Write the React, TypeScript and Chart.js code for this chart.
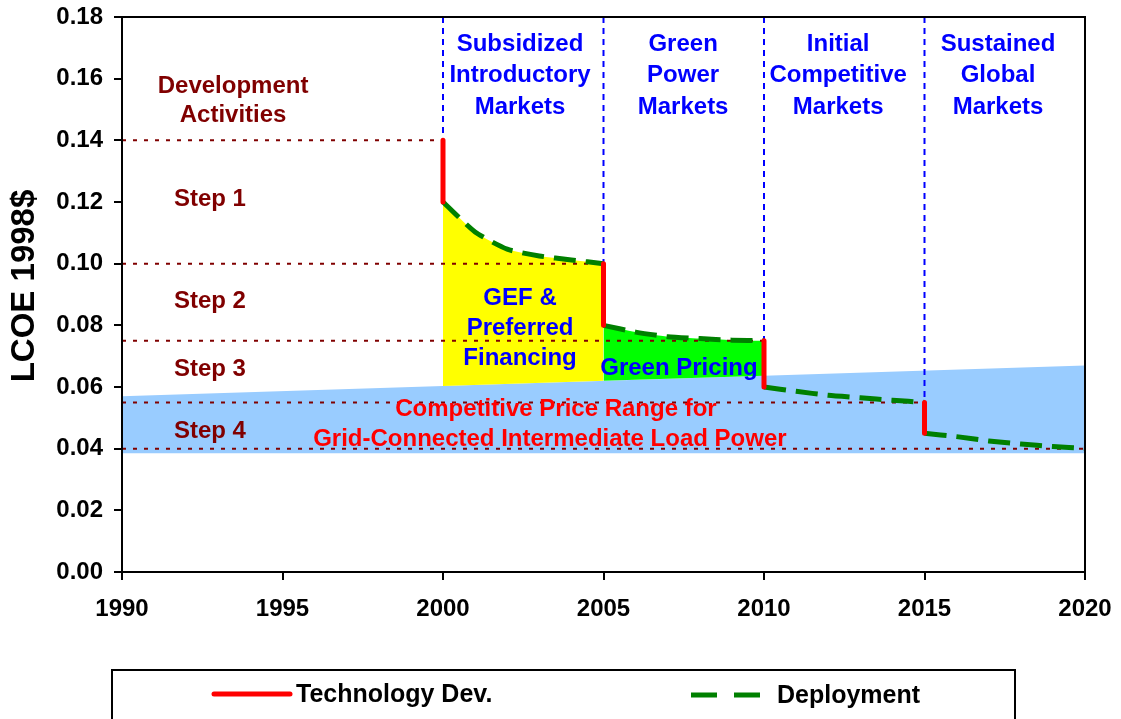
import React, { useEffect, useRef } from 'react';
import { Chart, registerables } from 'chart.js';

Chart.register(...registerables);

// ---- data ----
const xTickValues = [1990, 1995, 2000, 2005, 2010, 2015, 2020];
const yTickValues = [0, 0.02, 0.04, 0.06, 0.08, 0.1, 0.12, 0.14, 0.16, 0.18];

// Deployment cost curve, in four segments
const deployYears1 = [2000, 2001, 2002, 2003, 2004, 2005];
const deployValues1 = [0.12, 0.1103, 0.1047, 0.1025, 0.1012, 0.1];
const deployYears2 = [2005, 2006, 2007, 2008, 2009, 2010];
const deployValues2 = [0.08, 0.0778, 0.0763, 0.0757, 0.0752, 0.075];
const deployYears3 = [2010, 2011, 2012, 2013, 2014, 2015];
const deployValues3 = [0.06, 0.0586, 0.0573, 0.0565, 0.0557, 0.055];
const deployYears4 = [2015, 2016, 2017, 2018, 2019, 2020];
const deployValues4 = [0.045, 0.0439, 0.0425, 0.0415, 0.0407, 0.0401];

// Technology development steps (vertical drops)
const techYears = [2000, 2005, 2010, 2015];
const techTop = [0.14, 0.1, 0.075, 0.055];
const techBottom = [0.12, 0.08, 0.06, 0.045];

// Competitive price range band
const bandYears = [1990, 2020];
const bandLow = [0.0385, 0.0385];
const bandHigh = [0.057, 0.067];

// Step level guide lines
const stepLevels = [0.14, 0.1, 0.075, 0.055, 0.04];
const stepLevelEnds = [2000, 2005, 2010, 2015, 2020];

// Market phase dividers
const phaseYears = [2000, 2005, 2010, 2015];
const phaseBottoms = [0.14, 0.1, 0.075, 0.055];

const FAMILY = '"Liberation Sans", Arial, Helvetica, sans-serif';
const FONT = `bold 24px ${FAMILY}`;
const DARKRED = '#800000';
const BLUE = '#0000FF';
const RED = '#FF0000';
const GREEN = '#008000';

const textLabels = [
  { lines: ['Development', 'Activities'], x: 1993.46, y: 0.1532, lh: 29, color: DARKRED },
  { lines: ['Step 1'], x: 1992.74, y: 0.1213, lh: 30, color: DARKRED },
  { lines: ['Step 2'], x: 1992.74, y: 0.0882, lh: 30, color: DARKRED },
  { lines: ['Step 3'], x: 1992.74, y: 0.0662, lh: 30, color: DARKRED },
  { lines: ['Step 4'], x: 1992.74, y: 0.0461, lh: 30, color: DARKRED },
  { lines: ['Subsidized', 'Introductory', 'Markets'], x: 2002.4, y: 0.1614, lh: 31.5, color: BLUE },
  { lines: ['Green', 'Power', 'Markets'], x: 2007.48, y: 0.1614, lh: 31.5, color: BLUE },
  { lines: ['Initial', 'Competitive', 'Markets'], x: 2012.31, y: 0.1614, lh: 31.5, color: BLUE },
  { lines: ['Sustained', 'Global', 'Markets'], x: 2017.29, y: 0.1614, lh: 31.5, color: BLUE },
  { lines: ['GEF &', 'Preferred', 'Financing'], x: 2002.4, y: 0.0795, lh: 30, color: BLUE },
  { lines: ['Green Pricing'], x: 2007.35, y: 0.0665, lh: 30, color: BLUE },
  { lines: ['Competitive Price Range for'], x: 2003.52, y: 0.0532, lh: 30, color: RED },
  { lines: ['Grid-Connected Intermediate Load Power'], x: 2003.33, y: 0.0435, lh: 30, color: RED },
];

const pts = (xs: number[], ys: number[]) => xs.map((x, i) => ({ x, y: ys[i] }));

const overlayPlugin = {
  id: 'overlay',
  afterDatasetsDraw(chart: any) {
    const { ctx, chartArea: a } = chart;
    const xs = chart.scales.x;
    const ys = chart.scales.y;
    ctx.save();
    ctx.font = FONT;
    ctx.textAlign = 'center';
    ctx.textBaseline = 'middle';
    for (const l of textLabels) {
      ctx.fillStyle = l.color;
      const cx = xs.getPixelForValue(l.x);
      const cy = ys.getPixelForValue(l.y) + 1.5;
      const n = l.lines.length;
      l.lines.forEach((t, i) => ctx.fillText(t, cx, cy + (i - (n - 1) / 2) * l.lh));
    }
    ctx.strokeStyle = '#000';
    ctx.lineWidth = 2;
    ctx.strokeRect(a.left, a.top, a.right - a.left, a.bottom - a.top);
    ctx.restore();
  },
  afterDraw(chart: any) {
    const { ctx } = chart;
    ctx.save();
    // y-axis title
    ctx.translate(25, 286);
    ctx.rotate(-Math.PI / 2);
    ctx.fillStyle = '#000';
    ctx.font = `bold 33px ${FAMILY}`;
    ctx.textAlign = 'center';
    ctx.textBaseline = 'middle';
    ctx.fillText('LCOE 1998$', 0, 0);
    ctx.restore();

    ctx.save();
    ctx.strokeStyle = '#000';
    ctx.lineWidth = 2;
    ctx.strokeRect(112, 670, 903, 80);
    // Technology Dev.
    ctx.strokeStyle = RED;
    ctx.lineWidth = 5;
    ctx.lineCap = 'round';
    ctx.beginPath();
    ctx.moveTo(214, 694);
    ctx.lineTo(290, 694);
    ctx.stroke();
    // Deployment
    ctx.strokeStyle = GREEN;
    ctx.lineCap = 'butt';
    ctx.beginPath();
    ctx.moveTo(691, 695);
    ctx.lineTo(717, 695);
    ctx.moveTo(734, 695);
    ctx.lineTo(760, 695);
    ctx.stroke();
    ctx.fillStyle = '#000';
    ctx.font = `bold 25px ${FAMILY}`;
    ctx.textAlign = 'left';
    ctx.textBaseline = 'middle';
    ctx.fillText('Technology Dev.', 296, 695);
    ctx.fillText('Deployment', 777, 696);
    ctx.restore();
  },
};

const zeroPad = (s: any) => {
  s.paddingTop = 0;
  s.paddingBottom = 0;
  s.paddingLeft = 0;
  s.paddingRight = 0;
};

export default function App() {
  const ref = useRef<HTMLCanvasElement | null>(null);

  useEffect(() => {
    if (!ref.current) return;
    const gap = (x: number) => ({ x, y: null as any });
    const deployData = [
      ...pts(deployYears1, deployValues1), gap(2005),
      ...pts(deployYears2, deployValues2), gap(2010),
      ...pts(deployYears3, deployValues3), gap(2015),
      ...pts(deployYears4, deployValues4),
    ];
    const techData: any[] = [];
    techYears.forEach((yr, i) => {
      if (i > 0) techData.push(gap(yr));
      techData.push({ x: yr, y: techTop[i] }, { x: yr, y: techBottom[i] });
    });
    const TENSION = 0.2;
    const base = { pointRadius: 0, pointHoverRadius: 0, spanGaps: false } as any;

    const datasets: any[] = [
      { ...base, label: 'bandLow', data: pts(bandYears, bandLow), borderWidth: 0, borderColor: 'rgba(0,0,0,0)', fill: false, order: 100 },
      { ...base, label: 'bandHigh', data: pts(bandYears, bandHigh), borderWidth: 0, borderColor: 'rgba(0,0,0,0)', backgroundColor: '#99CCFF', fill: 0, order: 99 },
      { ...base, label: 'yellow', data: pts(deployYears1, deployValues1), tension: TENSION, borderWidth: 0, borderColor: 'rgba(0,0,0,0)', backgroundColor: '#FFFF00', fill: 1, order: 98 },
      { ...base, label: 'green', data: pts(deployYears2, deployValues2), tension: TENSION, borderWidth: 0, borderColor: 'rgba(0,0,0,0)', backgroundColor: '#00FF00', fill: 1, order: 97 },
    ];
    stepLevels.forEach((lv, i) => {
      datasets.push({ ...base, label: 'level' + i, data: [{ x: 1990, y: lv }, { x: stepLevelEnds[i], y: lv }], borderColor: DARKRED, borderWidth: 2, borderDash: [4, 7], fill: false, order: 50 });
    });
    phaseYears.forEach((yr, i) => {
      datasets.push({ ...base, label: 'phase' + i, data: [{ x: yr, y: 0.18 }, { x: yr, y: phaseBottoms[i] }], borderColor: BLUE, borderWidth: 2, borderDash: [6, 5], fill: false, order: 49 });
    });
    datasets.push({ ...base, label: 'Deployment', data: deployData, tension: TENSION, borderColor: GREEN, borderWidth: 5, borderDash: [22, 10], fill: false, order: 2 });
    datasets.push({ ...base, label: 'Technology Dev.', data: techData, borderColor: RED, borderWidth: 5, borderCapStyle: 'round', fill: false, order: 1 });

    const tickFont = { family: FAMILY, size: 24, weight: 'bold' as const };
    const chart = new Chart(ref.current, {
      type: 'line',
      data: { datasets },
      plugins: [overlayPlugin],
      options: {
        responsive: false,
        animation: false,
        devicePixelRatio: 1,
        layout: { padding: { left: 0, top: 17, right: 36, bottom: 0 } },
        plugins: { legend: { display: false }, tooltip: { enabled: false } },
        events: [],
        scales: {
          x: {
            type: 'linear',
            min: 1990,
            max: 2020,
            afterBuildTicks: (s: any) => { s.ticks = xTickValues.map((v) => ({ value: v })); },
            afterFit: (s: any) => { s.height = 147; zeroPad(s); },
            grid: { display: true, drawOnChartArea: false, drawTicks: true, tickLength: 8, color: '#000', lineWidth: 2 },
            border: { display: true, color: '#000', width: 2 },
            ticks: { color: '#000', font: tickFont, padding: 15, maxRotation: 0, autoSkip: false, callback: (v: any) => String(v) },
          },
          y: {
            type: 'linear',
            min: 0,
            max: 0.18,
            afterBuildTicks: (s: any) => { s.ticks = yTickValues.map((v) => ({ value: v })); },
            afterFit: (s: any) => { s.width = 122; zeroPad(s); },
            grid: { display: true, drawOnChartArea: false, drawTicks: true, tickLength: 8, color: '#000', lineWidth: 2 },
            border: { display: true, color: '#000', width: 2 },
            ticks: { color: '#000', font: tickFont, padding: 11, autoSkip: false, callback: (v: any) => Number(v).toFixed(2) },
          },
        },
      } as any,
    });
    return () => chart.destroy();
  }, []);

  return (
    <div style={{ position: 'absolute', left: 0, top: 0, width: 1121, height: 719, background: '#fff', overflow: 'hidden' }}>
      <canvas ref={ref} width={1121} height={719} />
    </div>
  );
}
